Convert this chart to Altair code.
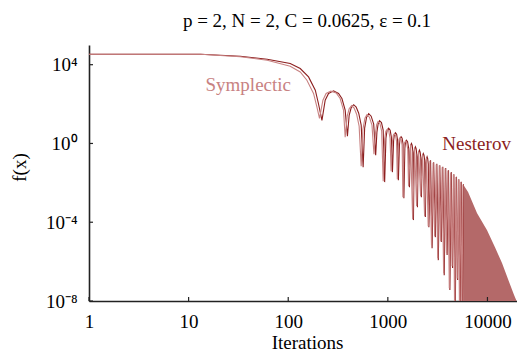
import altair as alt
import pandas as pd

# ---- data (iterations, f(x)) ----
nes_x = [1, 13.2, 33, 61.5, 104.7, 132, 160, 187, 201, 218,
         235, 254, 285, 320, 346, 373, 393,
         409, 429, 454, 481, 510, 540, 565,
         585, 612, 642, 680, 721, 755,
         777, 800, 824, 863, 898, 929,
         957, 984, 1019, 1055, 1085, 1112,
         1143, 1165, 1192, 1225, 1253, 1276,
         1307, 1328, 1359, 1391, 1423, 1449,
         1482, 1506, 1538, 1577, 1619, 1648,
         1679, 1698, 1726, 1754, 1783, 1807,
         1836, 1862, 1892, 1923, 1954, 1982,
         2014, 2042, 2075, 2109, 2143, 2173,
         2208, 2239, 2270, 2307, 2344, 2383,
         2416, 2444, 2478, 2512, 2547, 2582,
         2685, 2781, 2885, 3000, 3105, 3210, 3325, 3441, 3562, 3680, 3810, 3936,
         4064, 4197, 4334, 4467, 4603, 4743, 4887, 5024, 5164, 5309, 5458, 5598, 5741]
nes_y = [3.4e4, 3.4e4, 2.7e4, 1.9e4, 1.15e4, 6.4e3, 2.4e3, 508, 107, 15,
         158, 345, 468, 345, 192, 49, 2.35,
         27, 66, 93, 70, 34.5, 8.5, 0.063,
         6.0, 21.6, 32.6, 24.3, 9.5, 0.255,
         3.75, 10.1, 14.4, 11.4, 4.73, 0.0109,
         1.86, 4.73, 5.98, 4.73, 2.09, 0.035,
         1.47, 2.97, 3.53, 2.97, 1.47, 0.0137,
         0.82, 1.86, 2.21, 1.86, 0.92, 0.00167,
         0.577, 1.23, 1.47, 1.23, 0.577, 0.00605,
         0.407, 0.82, 1.0, 0.82, 0.407, 1.28e-4,
         0.322, 0.545, 0.672, 0.545, 0.286, 5.84e-4,
         0.202, 0.362, 0.457, 0.362, 0.202, 0.00188,
         0.142, 0.255, 0.311, 0.255, 0.142, 1.82e-4,
         0.1, 0.169, 0.209, 0.169, 0.089, 5.6e-5,
         0.142, 4.8e-6, 0.112, 1.75e-5, 0.094, 1.19e-6, 0.079, 9.8e-6, 0.066, 2.06e-7,
         0.056, 2.14e-6, 0.044, 3.6e-8, 0.035, 4.7e-7, 0.0277, 1e-9, 0.0206, 1.15e-7,
         0.0154, 1e-9, 0.0115, 5e-9, 0.0086]

sym_x = [1, 13.2, 33, 61.5, 104.7, 132, 154, 179.5, 194, 206,
         223, 240, 268, 303, 332, 359, 373,
         391, 409, 433, 459, 486, 515, 540,
         562, 589, 617, 653, 693, 726,
         751, 772, 796, 834, 867, 898,
         929, 955, 989, 1023, 1052, 1079,
         1114, 1135, 1162, 1195, 1222, 1245,
         1276, 1297, 1328, 1359, 1391, 1416,
         1449, 1472, 1506, 1544, 1584, 1614,
         1694, 1775, 1858, 1945, 2037, 2133, 2234, 2339, 2439, 2543, 2643, 2744,
         2846, 2953, 3060, 3170, 3280, 3395, 3508, 3630, 3757, 3880, 4009, 4140,
         4277, 4416, 4552, 4690, 4831, 4967, 5106, 5248, 5395, 5546, 5689]
sym_y = [3.4e4, 3.4e4, 2.55e4, 1.69e4, 8.4e3, 4.3e3, 1.63e3, 345, 72, 18.6,
         158, 345, 452, 370, 192, 49, 2.09,
         24.3, 58, 83, 62, 30.7, 7.55, 0.070,
         5.3, 19.2, 29, 21.6, 8.5, 0.286,
         3.33, 9.0, 12.8, 10.1, 4.2, 0.0122,
         1.65, 4.2, 5.3, 4.2, 1.86, 0.039,
         1.31, 2.64, 3.14, 2.64, 1.31, 0.0154,
         0.73, 1.65, 1.97, 1.65, 0.82, 0.00188,
         0.514, 1.1, 1.31, 1.1, 0.514, 0.0068,
         0.92, 1.44e-4, 0.61, 6.6e-4, 0.407, 0.0021, 0.286, 2.04e-4, 0.19, 6.3e-5,
         0.134, 6.9e-6, 0.106, 1.97e-5, 0.085, 1.5e-6, 0.075, 1.1e-5, 0.062, 2.6e-7,
         0.053, 2.7e-6, 0.042, 4.5e-8, 0.033, 5.8e-7, 0.026, 1e-9, 0.020, 1.4e-7,
         0.0145, 1e-9, 0.0109, 5e-9, 0.0081]

# dense oscillation region (visually a solid band down to the axis)
band_x = [5689, 6388, 7870, 9910, 11900, 14000, 16500, 18500, 19600]
band_top = [0.0086, 0.0034, 2.9e-4, 3.97e-5, 5.4e-6, 8.4e-7, 9.1e-8, 2.0e-8, 1e-8]

label_text = ["Symplectic", "Nesterov"]
label_x = [39.7, 7780]
label_y = [910, 0.92]

xtick_vals = [1, 10, 100, 1000, 10000]
ytick_vals = [1e-8, 1e-4, 1, 1e4]

# ---- styling ----
SYM_COL = "#c88282"
NES_COL = "#8c1e1e"
BAND_COL = "#b46969"
FONT = "Liberation Serif"
W, H = 428, 256

nes = pd.DataFrame({"it": nes_x, "f": nes_y})
sym = pd.DataFrame({"it": sym_x, "f": sym_y})
band = pd.DataFrame({"it": band_x, "f": band_top})
labels = pd.DataFrame({"it": label_x, "f": label_y, "t": label_text,
                       "c": [SYM_COL, NES_COL]})
xt = pd.DataFrame({"it": xtick_vals})
yt = pd.DataFrame({"f": ytick_vals})

xs = alt.Scale(type="log", domain=[1, 19800], nice=False)
ys = alt.Scale(type="log", domain=[1e-8, 1e5], nice=False)

x_axis = alt.Axis(values=xtick_vals, format="d", title="Iterations", grid=False,
                  ticks=False, tickSize=0, labelPadding=11, labelFlush=False,
                  labelOverlap=False, titleX=218, titleY=47,
                  titleBaseline="alphabetic", titleAlign="center")
y_axis = alt.Axis(values=ytick_vals, title="f(x)", grid=False, ticks=False,
                  tickSize=0, labelPadding=12, labelOverlap=False,
                  labelExpr="datum.value > 1000 ? '10⁴' : datum.value > 0.001 ? '10⁰' : datum.value > 1e-6 ? '10⁻⁴' : '10⁻⁸'",
                  titleAngle=270, titleX=-60, titleY=122, titleAlign="center",
                  titleBaseline="bottom")

X = alt.X("it:Q", scale=xs, axis=x_axis)
Y = alt.Y("f:Q", scale=ys, axis=y_axis)

band_chart = alt.Chart(band).mark_area(color=BAND_COL, clip=True).encode(
    x=X, y=Y, y2=alt.datum(1e-8),
)
nes_line = alt.Chart(nes).mark_line(color=NES_COL, strokeWidth=1.1, clip=True).encode(
    x=X, y=Y,
)
sym_line = alt.Chart(sym).mark_line(color=SYM_COL, strokeWidth=1.1, clip=True).encode(
    x=X, y=Y,
)
xticks = alt.Chart(xt).mark_rule(color="#222222", strokeWidth=1.2).encode(
    x=X, y=alt.value(H), y2=alt.value(H - 4),
)
yticks = alt.Chart(yt).mark_rule(color="#222222", strokeWidth=1.2).encode(
    y=Y, x=alt.value(0), x2=alt.value(4),
)
text = alt.Chart(labels).mark_text(font=FONT, fontSize=19).encode(
    x=X, y=Y,
    text="t:N",
    color=alt.Color("c:N", scale=None),
)

chart = alt.layer(band_chart, nes_line, sym_line, xticks, yticks, text).properties(
    width=W, height=H,
    title=alt.Title("p = 2, N = 2, C = 0.0625, ε = 0.1", font=FONT, fontSize=19,
                    fontWeight="normal", color="black", anchor="middle",
                    offset=14, dx=4),
    autosize=alt.AutoSizeParams(type="none"),
    padding={"left": 81, "top": 37, "right": 0, "bottom": 52},
).configure_view(stroke=None).configure_axis(
    domainColor="#222222", domainWidth=1.6, labelFont=FONT, labelFontSize=19,
    labelColor="black", titleFont=FONT, titleFontSize=19, titleFontWeight="normal",
    titleColor="black",
)

chart.save("out.html", embed_options={"renderer": "svg", "actions": False})
